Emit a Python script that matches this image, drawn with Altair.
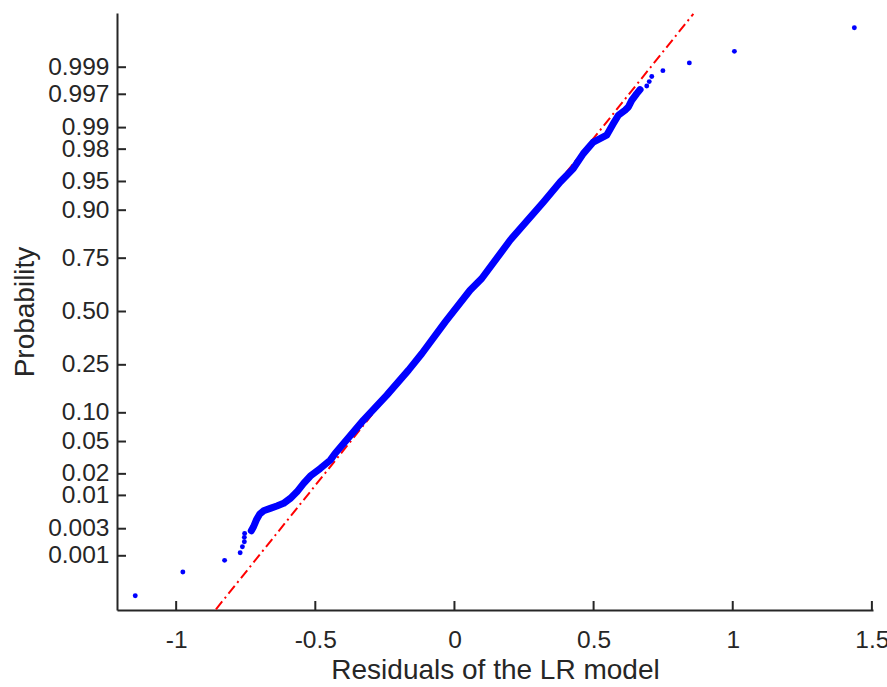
import json
from statistics import NormalDist

import altair as alt
import pandas as pd

# ---------------- data ----------------
x_tick_values = [-1, -0.5, 0, 0.5, 1, 1.5]
prob_ticks = [0.001, 0.003, 0.01, 0.02, 0.05, 0.10, 0.25, 0.50,
              0.75, 0.90, 0.95, 0.98, 0.99, 0.997, 0.999]
prob_labels = ["0.001", "0.003", "0.01", "0.02", "0.05", "0.10", "0.25", "0.50",
               "0.75", "0.90", "0.95", "0.98", "0.99", "0.997", "0.999"]

# isolated residuals in the lower tail (x = residual, z = normal quantile of plotting position)
lower_x = [-1.147, -0.976, -0.826, -0.770, -0.762, -0.755, -0.755, -0.754]
lower_z = [-3.595, -3.296, -3.148, -3.052, -2.976, -2.913, -2.857, -2.807]

# dense body of the sorted residuals
curve_x = [-0.730, -0.722, -0.712, -0.700, -0.686, -0.662, -0.638, -0.614, -0.590,
           -0.566, -0.542, -0.518, -0.482, -0.446, -0.429, -0.327, -0.243, -0.165,
           -0.117, -0.033, 0.056, 0.098, 0.200, 0.320, 0.380, 0.427, 0.463, 0.499,
           0.523, 0.547, 0.571, 0.589, 0.613, 0.625, 0.637, 0.655, 0.667]
curve_z = [-2.774, -2.723, -2.638, -2.563, -2.521, -2.491, -2.461, -2.427, -2.364,
           -2.281, -2.175, -2.082, -1.985, -1.880, -1.795, -1.374, -1.058, -0.742,
           -0.531, -0.131, 0.269, 0.417, 0.901, 1.386, 1.638, 1.808, 1.997, 2.144,
           2.187, 2.231, 2.377, 2.482, 2.545, 2.587, 2.671, 2.756, 2.807]

# isolated residuals in the upper tail
upper_x = [0.691, 0.700, 0.709, 0.749, 0.844, 1.006, 1.437]
upper_z = [2.852, 2.908, 2.972, 3.047, 3.145, 3.291, 3.590]

# reference (fitted normal) line end points
ref_x = [-0.857, 0.8585]
ref_z = [-3.767, 3.765]

# ---------------- tables ----------------
tails = pd.DataFrame({"x": lower_x + upper_x, "z": lower_z + upper_z})
curve = pd.DataFrame({"x": curve_x, "z": curve_z, "order": list(range(len(curve_x)))})
ref = pd.DataFrame({"x": ref_x, "z": ref_z})
xt = pd.DataFrame({"x": x_tick_values})
z_ticks = [NormalDist().inv_cdf(p) for p in prob_ticks]
yt = pd.DataFrame({"z": z_ticks})

W, H = 756, 597
TXT = "#262626"
FONT = "Liberation Sans"

x_scale = alt.Scale(domain=[-1.2126, 1.504], nice=False, zero=False)
y_scale = alt.Scale(domain=[-3.776, 3.776], nice=False, zero=False)

x_axis = alt.Axis(
    values=x_tick_values, ticks=False, grid=False, labelOverlap=False,
    labelExpr="toString(datum.value)",
    labelFont=FONT, labelFontSize=24.5, labelColor=TXT, labelPadding=18,
    domainColor=TXT, domainWidth=2,
    title="Residuals of the LR model", titleFont=FONT, titleFontSize=28,
    titleFontWeight="normal", titleColor=TXT, titleBaseline="alphabetic", titleY=68,
)
label_expr = f"{json.dumps(prob_labels)}[indexof({json.dumps(z_ticks)}, datum.value)]"
y_axis = alt.Axis(
    values=z_ticks, ticks=False, grid=False, labelOverlap=False, labelExpr=label_expr,
    labelFont=FONT, labelFontSize=24.5, labelColor=TXT, labelPadding=8,
    domainColor=TXT, domainWidth=2,
    title="Probability", titleFont=FONT, titleFontSize=28,
    titleFontWeight="normal", titleColor=TXT, titleBaseline="alphabetic", titleX=-84,
)

ref_line = alt.Chart(ref).mark_line(
    color="#ff0000", strokeWidth=2, strokeDash=[10, 4, 2, 4], clip=True
).encode(
    x=alt.X("x:Q", scale=x_scale, axis=x_axis),
    y=alt.Y("z:Q", scale=y_scale, axis=y_axis),
)

body = alt.Chart(curve).mark_line(
    color="#0000ff", strokeWidth=7, strokeCap="round", strokeJoin="round"
).encode(x="x:Q", y="z:Q", order="order:Q")

pts = alt.Chart(tails).mark_circle(color="#0000ff", size=24, opacity=1).encode(
    x="x:Q", y="z:Q"
)

x_ticks = alt.Chart(xt).mark_rule(color=TXT, strokeWidth=2).encode(
    x="x:Q", y=alt.value(H), y2=alt.value(H - 9)
)
y_ticks = alt.Chart(yt).mark_rule(color=TXT, strokeWidth=2).encode(
    y="z:Q", x=alt.value(0), x2=alt.value(9)
)

chart = alt.layer(ref_line, body, pts, x_ticks, y_ticks).properties(
    width=W, height=H,
    autosize=alt.AutoSizeParams(type="none"),
    padding={"left": 117, "top": 13, "right": 14, "bottom": 77},
    background="white",
).configure_view(strokeWidth=0)

chart.save("out.html", embed_options={"renderer": "svg", "actions": False})
